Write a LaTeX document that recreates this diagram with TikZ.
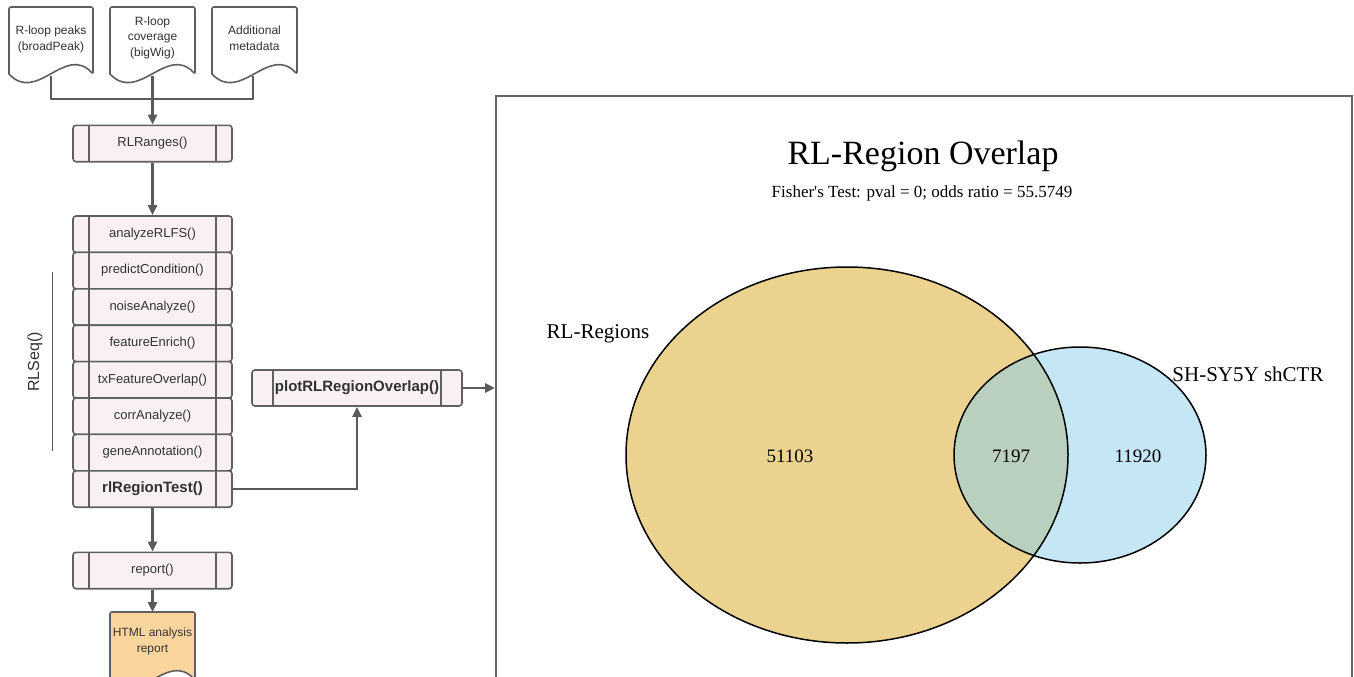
\documentclass[tikz,border=0pt]{standalone}
\usepackage{fontspec}
\setmainfont{Liberation Serif}
\newfontfamily\flowfont{Liberation Sans}
\usetikzlibrary{arrows.meta,calc}
\definecolor{boxfill}{RGB}{249,240,244}
\definecolor{boxdraw}{RGB}{95,95,95}
\definecolor{arrowcol}{RGB}{90,90,90}
\definecolor{flowtext}{RGB}{50,50,50}
\definecolor{htmlfill}{RGB}{250,214,158}
\definecolor{vennA}{RGB}{236,210,143}
\definecolor{vennB}{RGB}{197,230,245}
\definecolor{vennAB}{RGB}{186,208,190}
\definecolor{panelcol}{RGB}{100,100,100}
\begin{document}
\begin{tikzpicture}[x=1pt,y=-1pt,
  fnbox/.style={draw=boxdraw, fill=boxfill, line width=1.6pt, rounded corners=3pt,
    minimum width=159pt, minimum height=36.4pt, inner sep=0pt, text=flowtext,
    font=\flowfont\fontsize{13}{15}\selectfont,
    path picture={
      \draw[boxdraw,line width=1.6pt] ([xshift=#1]path picture bounding box.north west) -- ([xshift=#1]path picture bounding box.south west);
      \draw[boxdraw,line width=1.6pt] ([xshift=-#1]path picture bounding box.north east) -- ([xshift=-#1]path picture bounding box.south east);}},
  fnbox/.default=16pt,
  boldfn/.style={font=\flowfont\bfseries\fontsize{15}{17}\selectfont},
  docshape/.style={draw=boxdraw, line width=1.6pt, fill=white},
  doctext/.style={text=flowtext, align=center, inner sep=0pt, font=\flowfont\fontsize{12}{15.5}\selectfont},
  conn/.style={draw=arrowcol, line width=2.5pt},
  arr/.style={conn, -{Triangle[length=10pt,width=9pt]}},
  venntext/.style={inner sep=0pt, text=black}
]
\useasboundingbox (0,0) rectangle (1354,677);
\clip (0,0) rectangle (1354,677);

% ---------- input documents ----------
\draw[docshape, rounded corners=2pt] (9,74) -- (9,7) -- (93,7) -- (93,74) [sharp corners] .. controls (65,44) and (37,104) .. (9,74) -- cycle;
\draw[docshape, rounded corners=2pt] (110,74) -- (110,7) -- (195,7) -- (195,74) [sharp corners] .. controls (166.7,44) and (138.3,104) .. (110,74) -- cycle;
\draw[docshape, rounded corners=2pt] (212,74) -- (212,7) -- (297,7) -- (297,74) [sharp corners] .. controls (268.7,44) and (240.3,104) .. (212,74) -- cycle;
\node[doctext] (d1) at (51,39.5) {R-loop peaks\\(broadPeak)};
\node[doctext] (d2) at (152.5,37.5) {R-loop\\coverage\\(bigWig)};
\node[doctext] (d3) at (254.5,38) {Additional\\metadata};
\coordinate (d1b) at (51,76);
\coordinate (d2b) at (152.5,76);
\coordinate (d3b) at (253,76);
\coordinate (j1) at (51,99);
\coordinate (j3) at (253,99);

% ---------- function boxes ----------
\node[fnbox] (rlranges) at (152.5,143.5) {RLRanges()};
\node[fnbox] (s1) at (152.5,234.2) {analyzeRLFS()};
\node[fnbox] (s2) at (152.5,270.6) {predictCondition()};
\node[fnbox] (s3) at (152.5,307.0) {noiseAnalyze()};
\node[fnbox] (s4) at (152.5,343.4) {featureEnrich()};
\node[fnbox] (s5) at (152.5,379.8) {txFeatureOverlap()};
\node[fnbox] (s6) at (152.5,416.2) {corrAnalyze()};
\node[fnbox] (s7) at (152.5,452.6) {geneAnnotation()};
\node[fnbox, boldfn] (s8) at (152.5,489.0) {rlRegionTest()};
\node[fnbox] (report) at (152.5,570.5) {report()};
\node[fnbox=21pt, boldfn, minimum width=210pt, minimum height=36pt] (plot) at (357,388) {plotRLRegionOverlap()};

% RLSeq label
\node[rotate=90, text=flowtext, inner sep=0pt, font=\flowfont\fontsize{16}{18}\selectfont] (rlseq) at (35,362) {RLSeq()};
\coordinate (bt) at (52,272);
\coordinate (bb) at (52,451);
\draw[draw=arrowcol, line width=1pt] (bt) -- (bb);

% HTML report document
\draw[docshape, fill=htmlfill, rounded corners=2pt] (110,680) -- (110,612) -- (195,612) -- (195,680) [sharp corners] .. controls (166.7,650) and (138.3,710) .. (110,680) -- cycle;
\node[doctext, text=flowtext] (html) at (152.5,641.5) {HTML analysis\\report};
\coordinate (htop) at (152.5,612);

% ---------- connectors ----------
\draw[conn, line join=round] (d1b) -- (j1) -- (j3) -- (d3b);
\draw[arr] (d2b) -- (rlranges.north);
\draw[arr] (rlranges.south) -- (s1.north);
\draw[arr] (s8.south) -- (report.north);
\draw[arr] (report.south) -- (htop);
\draw[arr] (s8.east) -| (plot.south);

% ---------- right panel ----------
\coordinate (pnw) at (496,96);
\coordinate (pse) at (1352,720);
\draw[draw=panelcol, line width=1.5pt] (pnw) rectangle (pse);
\coordinate (pin) at (495,388);
\draw[arr] (plot.east) -- (pin);

% Venn diagram
\fill[vennA] (847,455) ellipse [x radius=221, y radius=188];
\fill[vennB] (1080,455) ellipse [x radius=126, y radius=108];
\begin{scope}
  \clip (847,455) ellipse [x radius=221, y radius=188];
  \fill[vennAB] (1080,455) ellipse [x radius=126, y radius=108];
\end{scope}
\draw[line width=1.5pt] (847,455) ellipse [x radius=221, y radius=188];
\draw[line width=1.5pt] (1080,455) ellipse [x radius=126, y radius=108];

\node[venntext, font=\fontsize{34}{40}\selectfont] (title) at (923,156) {RL-Region Overlap};
\node[venntext, font=\fontsize{17}{20}\selectfont] (fisher) at (922,193) {Fisher\textquotesingle s Test: pval = 0; odds ratio = 55.5749};
\node[venntext, font=\fontsize{21}{24}\selectfont] (labA) at (598,334) {RL-Regions};
\node[venntext, font=\fontsize{21}{24}\selectfont] (labB) at (1248,374) {SH-SY5Y shCTR};
\node[venntext, font=\fontsize{19}{22}\selectfont] (nA) at (790,456) {51103};
\node[venntext, font=\fontsize{19}{22}\selectfont] (nAB) at (1011,456) {7197};
\node[venntext, font=\fontsize{19}{22}\selectfont] (nB) at (1138,456) {11920};
\end{tikzpicture}
\end{document}
